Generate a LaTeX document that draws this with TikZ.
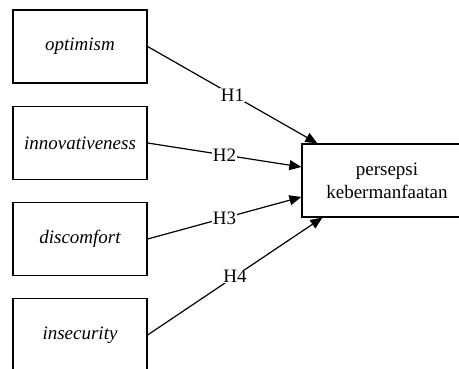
\documentclass[tikz,border=0pt]{standalone}
\usepackage{fontspec}
\setmainfont{Liberation Serif}
\usetikzlibrary{arrows.meta}
\begin{document}
\begin{tikzpicture}[x=1pt,y=-1pt,
  srcbox/.style={draw,line width=1.2pt,minimum width=134pt,minimum height=73pt,inner sep=0pt,font=\fontsize{19}{21}\selectfont\itshape},
  tgtbox/.style={draw,line width=1.2pt,minimum width=170pt,minimum height=73pt,inner sep=0pt,align=center,font=\fontsize{19}{23}\selectfont},
  link/.style={line width=1.2pt,-{Triangle[length=12pt,width=10pt]}},
  hlab/.style={fill=white,inner sep=0.5pt,font=\fontsize{19}{21}\selectfont}]
\useasboundingbox (0,0) rectangle (459,369);
\node[srcbox] (opt) at (80,46.5) {optimism};
\node[srcbox] (inn) at (80,143) {innovativeness};
\node[srcbox] (dis) at (80,239) {discomfort};
\node[srcbox] (ins) at (80,335) {insecurity};
\node[tgtbox] (t) at (387,180.5) {persepsi\\kebermanfaatan};
\coordinate (t1) at ([xshift=16pt]t.north west);
\coordinate (t2) at ([yshift=13.5pt]t.west);
\coordinate (t3) at ([yshift=-16.5pt]t.west);
\coordinate (t4) at ([xshift=21pt]t.south west);
\draw[link] (opt.east) -- node[hlab]{H1} (t1);
\draw[link] (inn.east) -- node[hlab]{H2} (t2);
\draw[link] (dis.east) -- node[hlab]{H3} (t3);
\draw[link] (ins.east) -- node[hlab]{H4} (t4);
\end{tikzpicture}
\end{document}
